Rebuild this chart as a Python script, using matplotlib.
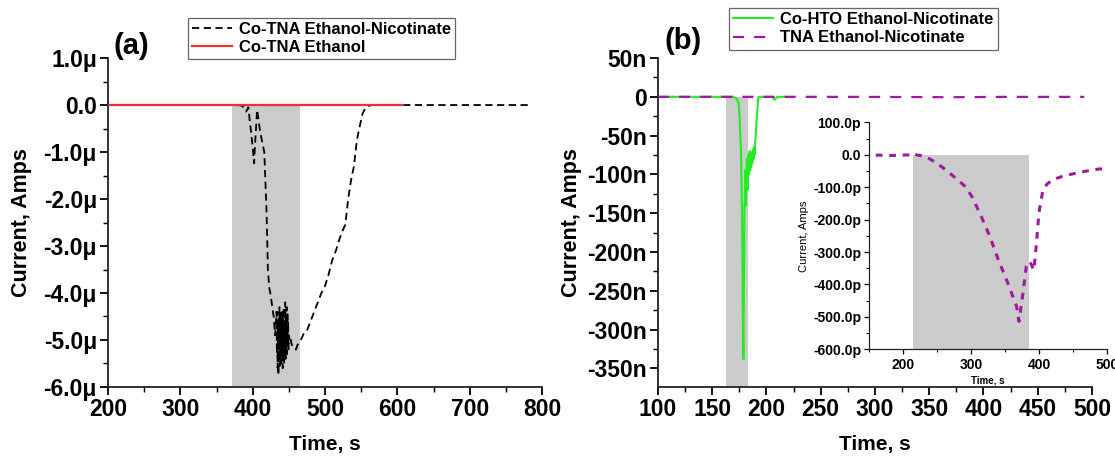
import matplotlib
matplotlib.use('Agg')
import matplotlib.pyplot as plt
from matplotlib.ticker import MultipleLocator, FuncFormatter

plt.rcParams['font.family'] = ['Liberation Sans', 'DejaVu Sans']
plt.rcParams['font.weight'] = 'bold'

# (a) Co-TNA, current in microamps
t_cotna_nic = [200, 300, 380, 386, 389, 391, 394, 396, 398, 400, 402, 403, 405, 406, 408,
               410, 412, 414, 416, 418, 419, 420, 421, 423, 425, 427, 429, 431, 433,
               433.5, 434, 434.5, 435, 435.5, 436, 436.5, 437, 437.5, 438, 438.5, 439,
               439.5, 440, 440.5, 441, 441.5, 442, 442.5, 443, 443.5, 444, 444.5, 445,
               445.5, 446, 446.5, 447, 447.5, 448, 448.5, 449, 449.5, 450, 451, 452,
               454, 456, 458, 460, 462, 465, 468, 471, 475, 480, 485, 490, 495, 500,
               505, 510, 515, 520, 525, 528, 532, 536, 540, 544, 548, 552, 556, 560,
               565, 600, 700, 786]
i_cotna_nic = [0, 0, 0, -0.02, -0.1, -0.14, -0.05, -0.35, -0.6, -0.9, -1.24, -0.9, -0.4, -0.1, -0.3,
               -0.55, -0.7, -0.85, -1.0, -1.8, -2.2, -2.8, -3.5, -3.9, -4.05, -4.3, -4.5, -4.9, -4.4,
               -5.3, -4.4, -5.6, -4.6, -5.75, -4.5, -5.5, -4.3, -5.6, -4.6, -5.4, -4.4,
               -5.5, -4.7, -5.3, -4.4, -5.6, -4.5, -5.4, -4.3, -5.5, -4.6, -5.3, -4.2,
               -5.4, -4.5, -5.2, -4.3, -5.3, -4.4, -5.1, -4.6, -5.2, -4.9, -5.0, -4.95,
               -5.1, -5.15, -5.2, -5.2, -5.1, -5.05, -4.95, -4.85, -4.8, -4.6, -4.4, -4.2, -4.0, -3.85,
               -3.6, -3.3, -3.1, -2.85, -2.65, -2.55, -2.0, -1.6, -1.3, -0.75, -0.45, -0.18, -0.06, -0.02,
               0, 0, 0, 0]
t_cotna_eth = [200, 608]
i_cotna_eth = [0, 0]
shade_a = (371, 466)

# (b) Co-HTO in nanoamps
t_cohto = [100, 150, 169, 171, 173, 174.5, 175.5, 176.5, 177.2, 177.8, 178.3, 178.8, 179.2,
           179.6, 180, 180.5, 181, 181.5, 182, 182.5, 183, 183.5, 184, 184.5, 185, 185.5,
           186, 186.5, 187, 187.5, 188, 188.5, 189, 189.5, 190, 190.7, 191.5, 192.3, 193,
           200, 205, 207.5, 210, 218]
i_cohto = [0, 0, 0, -1, -3, -9, -35, -69, -121, -200, -300, -338, -250,
           -150, -135, -95, -140, -110, -80, -120, -90, -75, -100, -70, -95, -80,
           -90, -72, -85, -68, -80, -65, -75, -60, -52, -35, -20, -3, 0,
           0, 0, -4, 0, 0]
shade_b = (162.6, 183.2)

# TNA in picoamps
t_tna = [100, 150, 180, 209.7, 212, 220, 234, 249, 262, 274, 291, 301, 315, 327.5, 340,
         354, 367, 370.6, 376.5, 381.4, 385.3, 388, 392.6, 396, 400, 406, 412, 420, 432,
         445, 460, 475, 487, 493]
i_tna = [0, 0, -2, 0, 5, 0, -6, -25, -45, -66, -97, -128, -190, -251, -323,
         -395, -467, -514, -426, -344, -329, -335, -356, -282, -179, -107, -90, -77, -68,
         -61, -54, -48, -44, -43]
shade_inset = (214, 385)

SHADE = '#cbcbcb'
GREEN = '#22ec22'
PURPLE = '#a0189e'


def style_axes(ax, size=16.5, lw=1.3, maj=6, mnr=3.5, pad=2):
    for s in ('top', 'right'):
        ax.spines[s].set_visible(False)
    for s in ('left', 'bottom'):
        ax.spines[s].set_linewidth(lw)
        ax.spines[s].set_color('#222222')
    ax.tick_params(which='major', direction='out', length=maj, width=lw, labelsize=size, pad=pad)
    ax.tick_params(which='minor', direction='out', length=mnr, width=lw * 0.8)
    for lab in ax.get_xticklabels() + ax.get_yticklabels():
        lab.set_fontweight('bold')


def fmt_unit(unit, zero, dec):
    def f(v, pos):
        if abs(v) < 1e-9:
            return zero
        return f'{v:.{dec}f}{unit}'
    return FuncFormatter(f)


def add_legend(ax, x, y):
    leg = ax.legend(loc='upper left', bbox_to_anchor=(x, y), bbox_transform=fig.transFigure,
                    frameon=True, fancybox=False, framealpha=1, edgecolor='#666666',
                    handlelength=2.4, handletextpad=0.4, labelspacing=0.2, borderpad=0.25,
                    borderaxespad=0, prop={'weight': 'bold', 'size': 12})
    leg.get_frame().set_linewidth(0.9)
    return leg


fig = plt.figure(figsize=(11.15, 4.57), dpi=100)

# panel (a)
ax1 = fig.add_axes([0.0969, 0.1532, 0.3892, 0.7198])
ax1.axvspan(*shade_a, ymax=6 / 7, color=SHADE, lw=0, zorder=0)
ax1.plot(t_cotna_nic, i_cotna_nic, color='black', lw=1.3, ls=(0, (4, 2.5)),
         label='Co-TNA Ethanol-Nicotinate', zorder=2)
ax1.plot(t_cotna_eth, i_cotna_eth, color='#ee3030', lw=1.6, label='Co-TNA Ethanol', zorder=3)
ax1.set_xlim(200, 800)
ax1.set_ylim(-6, 1)
ax1.xaxis.set_major_locator(MultipleLocator(100))
ax1.xaxis.set_minor_locator(MultipleLocator(50))
ax1.yaxis.set_major_locator(MultipleLocator(1))
ax1.yaxis.set_minor_locator(MultipleLocator(0.5))
ax1.yaxis.set_major_formatter(fmt_unit('μ', '0.0', 1))
style_axes(ax1)
ax1.set_xlabel('Time, s', fontsize=15, fontweight='bold', labelpad=10)
ax1.set_ylabel('Current, Amps', fontsize=15.5, fontweight='bold', labelpad=8)
fig.text(0.102, 0.90, '(a)', fontsize=21, fontweight='bold', va='center')
add_legend(ax1, 0.1686, 0.961)

# panel (b)
ax2 = fig.add_axes([0.5901, 0.1532, 0.3892, 0.7198])
ax2.axvspan(*shade_b, ymax=(374 / 424), color=SHADE, lw=0, zorder=0)
ax2.plot(t_cohto, i_cohto, color=GREEN, lw=1.5, label='Co-HTO Ethanol-Nicotinate', zorder=2)
ax2.plot(t_tna, [v / 1000 for v in i_tna], color=PURPLE, lw=1.6, ls=(0, (5, 4.5)),
         label='TNA Ethanol-Nicotinate', zorder=3)
ax2.set_xlim(100, 500)
ax2.set_ylim(-374, 50)
ax2.xaxis.set_major_locator(MultipleLocator(50))
ax2.xaxis.set_minor_locator(MultipleLocator(25))
ax2.yaxis.set_major_locator(MultipleLocator(50))
ax2.yaxis.set_minor_locator(MultipleLocator(25))
ax2.yaxis.set_major_formatter(fmt_unit('n', '0', 0))
style_axes(ax2)
ax2.set_xlabel('Time, s', fontsize=15, fontweight='bold', labelpad=10)
ax2.set_ylabel('Current, Amps', fontsize=15.5, fontweight='bold', labelpad=4)
fig.text(0.596, 0.91, '(b)', fontsize=21, fontweight='bold', va='center')
add_legend(ax2, 0.654, 0.9825)

# inset of the TNA trace
axi = fig.add_axes([0.7797, 0.2357, 0.2129, 0.4963])
axi.axvspan(*shade_inset, ymax=6 / 7, color=SHADE, lw=0, zorder=0)
axi.plot(t_tna, i_tna, color=PURPLE, lw=2.2, ls=(0, (2.2, 2.2)), zorder=2)
axi.set_xlim(150, 500)
axi.set_ylim(-600, 100)
axi.xaxis.set_major_locator(MultipleLocator(100))
axi.xaxis.set_minor_locator(MultipleLocator(50))
axi.yaxis.set_major_locator(MultipleLocator(100))
axi.yaxis.set_minor_locator(MultipleLocator(50))
axi.yaxis.set_major_formatter(fmt_unit('p', '0.0', 1))
style_axes(axi, size=10, lw=0.9, maj=3.5, mnr=2, pad=2.5)
axi.set_xlabel('Time, s', fontsize=7, fontweight='bold', labelpad=3)
axi.set_ylabel('Current, Amps', fontsize=8, fontweight='normal', labelpad=3)

fig.savefig('out.png', dpi=100)
